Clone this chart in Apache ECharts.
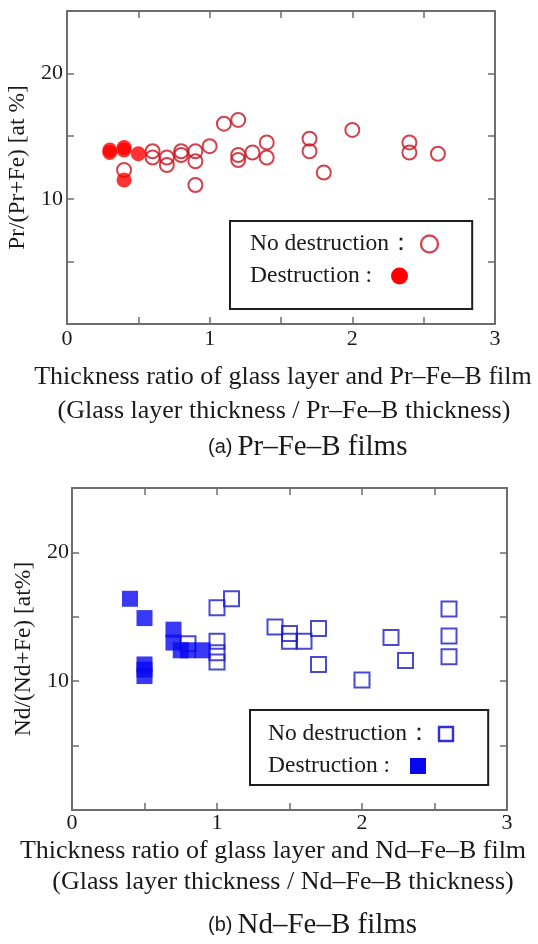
<!DOCTYPE html>
<html>
<head>
<meta charset="utf-8">
<script src="https://cdn.jsdelivr.net/npm/echarts@6/dist/echarts.min.js"></script>
<style>html,body{margin:0;padding:0;background:#fff}#c{width:538px;height:944px}</style>
</head>
<body>
<div id="c"></div>
<script>
// ---- data ----
const xTicks = [0, 1, 2, 3];
const yTicks = [10, 20];
// (a) Pr-Fe-B films: [thickness ratio, Pr/(Pr+Fe) at%]
const prNoDestruction = [
  [0.4, 12.3], [0.6, 13.8], [0.6, 13.3], [0.7, 13.3], [0.7, 12.7],
  [0.8, 13.8], [0.8, 13.5], [0.9, 13.8], [0.9, 13.0], [0.9, 11.1],
  [1.0, 14.2], [1.1, 16.0], [1.2, 16.3], [1.2, 13.5], [1.2, 13.1],
  [1.3, 13.7], [1.4, 14.5], [1.4, 13.3], [1.7, 14.8], [1.7, 13.8],
  [1.8, 12.1], [2.0, 15.5], [2.4, 14.5], [2.4, 13.7], [2.6, 13.6]
];
const prDestruction = [
  [0.3, 13.9], [0.3, 13.7], [0.4, 14.1], [0.4, 13.9], [0.5, 13.6], [0.4, 11.5]
];
// (b) Nd-Fe-B films: [thickness ratio, Nd/(Nd+Fe) at%]
const ndNoDestruction = [
  [0.8, 12.9], [1.0, 15.7], [1.0, 13.1], [1.0, 12.2], [1.0, 11.5],
  [1.1, 16.4], [1.4, 14.2], [1.5, 13.7], [1.5, 13.1], [1.6, 13.1],
  [1.7, 14.1], [1.7, 11.3], [2.0, 10.1], [2.2, 13.4], [2.3, 11.6],
  [2.6, 15.6], [2.6, 13.5], [2.6, 11.9]
];
const ndDestruction = [
  [0.4, 16.4], [0.5, 14.9], [0.5, 11.3], [0.5, 10.9], [0.5, 10.4],
  [0.7, 14.0], [0.7, 13.0], [0.75, 12.4], [0.8, 12.4], [0.9, 12.4]
];
const legendOpenText = 'No destruction\uFF1A';
const legendFilledText = 'Destruction :';
const xNameA = ['Thickness ratio of glass layer and Pr\u2013Fe\u2013B film', '(Glass layer thickness / Pr\u2013Fe\u2013B thickness)'];
const xNameB = ['Thickness ratio of glass layer and Nd\u2013Fe\u2013B film', '(Glass layer thickness / Nd\u2013Fe\u2013B thickness)'];
const yNameA = 'Pr/(Pr+Fe) [at %]';
const yNameB = 'Nd/(Nd+Fe) [at%]';
const captionA = ['(a)', 'Pr\u2013Fe\u2013B films'];
const captionB = ['(b)', 'Nd\u2013Fe\u2013B films'];

// ---- styling ----
const SERIF = '"Liberation Serif", "DejaVu Serif", serif';
const SANS = '"Liberation Sans", Arial, sans-serif';
const AX = '#6e6e6e';
const TXT = '#1a1a1a';
const RED_LINE = '#c8121f', RED_FILL = '#ff0000';
const BLUE_LINE = '#1c1cc8', BLUE_FILL = '#0808f0';

function xAxisPair(gi, lines, gap, lh, pads, labelMargin) {
  const common = {
    type: 'value', gridIndex: gi, min: 0, max: 3, interval: 0.5,
    axisLine: { show: true, onZero: false, lineStyle: { color: AX, width: 2 } },
    axisTick: { show: true, inside: true, length: 7, lineStyle: { color: AX, width: 1.5 } },
    splitLine: { show: false }
  };
  return [
    Object.assign({}, common, {
      position: 'bottom',
      axisLabel: {
        color: TXT, fontFamily: SERIF, fontSize: 22, margin: labelMargin,
        formatter: v => (xTicks.indexOf(v) >= 0 ? String(v) : '')
      },
      name: '{l1|' + lines[0] + '}\n{l2|' + lines[1] + '}',
      nameLocation: 'middle', nameGap: gap,
      nameTextStyle: {
        color: TXT, fontFamily: SERIF, fontSize: 26, lineHeight: lh, align: 'center', verticalAlign: 'top',
        rich: {
          l1: { fontFamily: SERIF, fontSize: 26, lineHeight: lh, color: TXT, padding: pads[0] },
          l2: { fontFamily: SERIF, fontSize: 26, lineHeight: lh, color: TXT, padding: pads[1] }
        }
      }
    }),
    Object.assign({}, common, { position: 'top', axisLabel: { show: false } })
  ];
}
function yAxisPair(gi, name, gap, labelMargin) {
  const common = {
    type: 'value', gridIndex: gi, min: 0, max: 25, interval: 5,
    axisLine: { show: true, onZero: false, lineStyle: { color: AX, width: 2 } },
    axisTick: { show: true, inside: true, length: 7, lineStyle: { color: AX, width: 1.5 } },
    splitLine: { show: false }
  };
  return [
    Object.assign({}, common, {
      position: 'left',
      axisLabel: {
        color: TXT, fontFamily: SERIF, fontSize: 22, margin: labelMargin,
        formatter: v => (yTicks.indexOf(v) >= 0 ? String(v) : '')
      },
      name: name, nameLocation: 'middle', nameGap: gap,
      nameTextStyle: { color: TXT, fontFamily: SERIF, fontSize: 23.5 }
    }),
    Object.assign({}, common, { position: 'right', axisLabel: { show: false } })
  ];
}

const xa = xAxisPair(0, xNameA, 36, 34, [[0, 0, 0, 4], [0, 0, 0, 6]], 4);
const xb = xAxisPair(1, xNameB, 26, 31, [[0, 33, 0, 0], [0, 13, 0, 0]], 2);
const ya = yAxisPair(0, yNameA, 31, 4);
const yb = yAxisPair(1, yNameB, 33, 3);

function legendRich(w1, w2, openIcon, filledIcon) {
  return {
    t1: { width: w1, fontFamily: SERIF, fontSize: 23.5, lineHeight: 22, color: TXT },
    t2: { width: w2, fontFamily: SERIF, fontSize: 23.5, lineHeight: 22, color: TXT },
    o: openIcon, f: filledIcon
  };
}
const legendFmt = {
  prOpen: '{t1|' + legendOpenText + '}{o|}',
  prFilled: '{t2|' + legendFilledText + '}{f|}',
  ndOpen: '{t1|' + legendOpenText + '}{o|}',
  ndFilled: '{t2|' + legendFilledText + '}{f|}'
};
function captionTitle(parts, left, top) {
  return {
    text: '{a|' + parts[0] + '} {b|' + parts[1] + '}', left: left, top: top, padding: 0,
    textStyle: {
      fontWeight: 'normal',
      rich: {
        a: { fontFamily: SANS, fontSize: 20, color: TXT, fontWeight: 'normal', lineHeight: 30 },
        b: { fontFamily: SERIF, fontSize: 29, color: TXT, fontWeight: 'normal', lineHeight: 30 }
      }
    }
  };
}

const option = {
  backgroundColor: '#fff',
  animation: false,
  grid: [
    { left: 67, top: 11, width: 428, height: 313, outerBoundsMode: 'none', containLabel: false },
    { left: 72, top: 488, width: 435, height: 322, outerBoundsMode: 'none', containLabel: false }
  ],
  xAxis: [xa[0], xa[1], xb[0], xb[1]],
  yAxis: [ya[0], ya[1], yb[0], yb[1]],
  title: [captionTitle(captionA, 208, 432), captionTitle(captionB, 208, 910)],
  legend: [
    {
      data: ['prOpen', 'prFilled'], orient: 'vertical', align: 'left',
      left: 230, top: 221, padding: [11, 33, 21, 14], itemGap: 8,
      itemWidth: 0, itemHeight: 22, itemStyle: { opacity: 0 },
      borderColor: '#1e1e1e', borderWidth: 2, borderRadius: 0,
      formatter: n => legendFmt[n],
      textStyle: {
        fontFamily: SERIF, fontSize: 23.5, color: TXT,
        rich: legendRich(171, 141,
          { width: 17, height: 17, borderRadius: 9, borderColor: '#d04858', borderWidth: 1.2, backgroundColor: 'rgba(255,255,255,0)' },
          { width: 17, height: 17, borderRadius: 8.5, backgroundColor: RED_FILL })
      }
    },
    {
      data: ['ndOpen', 'ndFilled'], orient: 'vertical', align: 'left',
      left: 250, top: 710, padding: [12, 34, 7, 12], itemGap: 8,
      itemWidth: 0, itemHeight: 22, itemStyle: { opacity: 0 },
      borderColor: '#1e1e1e', borderWidth: 2, borderRadius: 0,
      formatter: n => legendFmt[n],
      textStyle: {
        fontFamily: SERIF, fontSize: 23.5, color: TXT,
        rich: legendRich(171, 142,
          { width: 14, height: 14, borderColor: '#3030d8', borderWidth: 1.2, backgroundColor: 'rgba(255,255,255,0)' },
          { width: 16, height: 16, backgroundColor: BLUE_FILL })
      }
    }
  ],
  series: [
    {
      name: 'prOpen', type: 'scatter', xAxisIndex: 0, yAxisIndex: 0,
      symbol: 'circle', symbolSize: 14, data: prNoDestruction,
      itemStyle: { color: 'rgba(255,255,255,0)', borderColor: RED_LINE, borderWidth: 2 }
    },
    {
      name: 'prFilled', type: 'scatter', xAxisIndex: 0, yAxisIndex: 0,
      symbol: 'circle', symbolSize: 15, data: prDestruction,
      itemStyle: { color: RED_FILL, borderWidth: 0 }
    },
    {
      name: 'ndOpen', type: 'scatter', xAxisIndex: 2, yAxisIndex: 2,
      symbol: 'rect', symbolSize: 15, data: ndNoDestruction,
      itemStyle: { color: 'rgba(255,255,255,0)', borderColor: BLUE_LINE, borderWidth: 2 }
    },
    {
      name: 'ndFilled', type: 'scatter', xAxisIndex: 2, yAxisIndex: 2,
      symbol: 'rect', symbolSize: 16, data: ndDestruction,
      itemStyle: { color: BLUE_FILL, borderWidth: 0 }
    }
  ]
};
echarts.init(document.getElementById('c'), null, { renderer: 'canvas' }).setOption(option);
</script>
</body>
</html>
